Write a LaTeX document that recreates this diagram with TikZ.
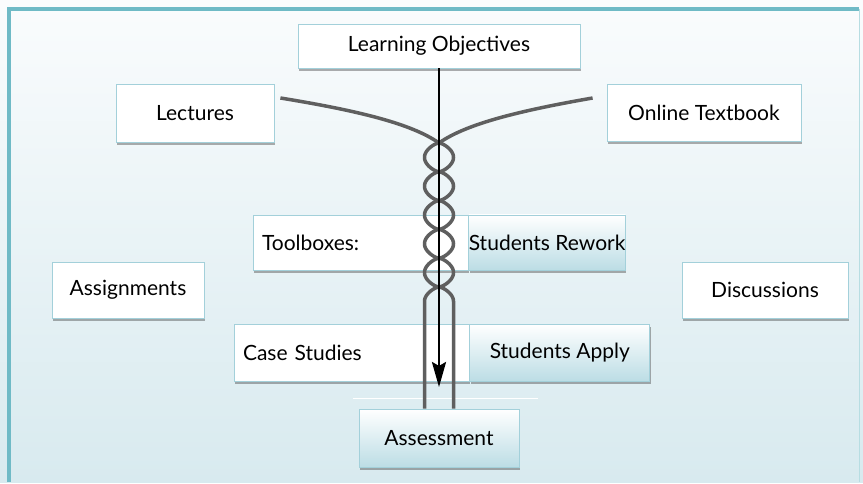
\documentclass[tikz,border=0pt]{standalone}
\usepackage{fontspec}
\setmainfont{Lato}
\usetikzlibrary{positioning,arrows.meta,shadows,calc}
\definecolor{w_frame}{HTML}{6FBAC6}
\definecolor{w_edge}{HTML}{A3D0DA}
\definecolor{w_bgtop}{HTML}{FAFCFD}
\definecolor{w_bgbot}{HTML}{D8EAEF}
\definecolor{w_shade}{HTML}{BCDDE5}
\definecolor{w_rope}{HTML}{5F5F5F}
\tikzstyle{block} = [rectangle, draw=w_edge, line width=0.8pt, fill=white,
	inner sep=0pt, minimum height=56pt,
	drop shadow={shadow xshift=1pt, shadow yshift=-3pt, opacity=0.45, fill=black!70}]
\tikzstyle{shadedblock} = [block, top color=white, bottom color=w_shade]
\tikzstyle{rope} = [draw=w_rope, line width=3.5pt]

\begin{document}
\begin{tikzpicture}[x=1pt, y=-1pt, font=\fontsize{21}{25}\selectfont]
	\shade[top color=w_bgtop, bottom color=w_bgbot] (0,0) rectangle (863,482);
	\draw[w_frame, line width=4pt] (9,482) -- (9,9) -- (859,9);
	\draw[w_frame!50, line width=1pt] (859,9) -- (859,482);

	\node[block, minimum width=282pt, minimum height=44pt] (lobj) at (439,46) {Learning Objectives};
	\node[block, minimum width=158pt, minimum height=58pt] (lect) at (195,113) {Lectures};
	\node[block, minimum width=194pt, minimum height=57pt] (otb) at (704,112.5) {Online Textbook};

	\node[block, minimum width=215pt, minimum height=55pt, text width=197pt, align=left] (tbox) at (360.5,242.5) {Toolboxes:};
	\node[shadedblock, minimum width=152pt, minimum height=55pt, right=0pt of tbox] (rework) {Students Rework};

	\node[block, minimum width=152pt] (asgn) at (128,290) {Assignments};
	\node[block, minimum width=166pt] (disc) at (765,290) {Discussions};

	\node[block, minimum width=235pt, minimum height=57pt, text width=217pt, align=left] (cases) at (351.5,352.5) {Case Studies};
	\node[shadedblock, minimum width=180pt, minimum height=57pt, right=0pt of cases] (apply) {Students Apply};

	\draw[white, line width=1pt] (353,398) -- (538,398);
	\node[shadedblock, minimum width=160pt, minimum height=58pt] (assess) at (439,438) {Assessment};

	\draw[rope] ([xshift=6pt, yshift=15pt]lect.east) .. controls (360,111) and (412,124) .. (439,143)
		-- plot[variable=\t, domain=143:301.4, samples=240] ({439+14.5*sign(sin(6.25*(\t-143)))*(abs(sin(6.25*(\t-143)))+0.0001)^0.65}, {\t})
		-- ([xshift=-14.5pt]assess.north);
	\draw[rope] ([xshift=-14pt, yshift=14.5pt]otb.west) .. controls (518,111) and (466,124) .. (439,143)
		-- plot[variable=\t, domain=143:301.4, samples=240] ({439-14.5*sign(sin(6.25*(\t-143)))*(abs(sin(6.25*(\t-143)))+0.0001)^0.65}, {\t})
		-- ([xshift=14.5pt]assess.north);

	\coordinate (tip) at (439,387);
	\draw[line width=2.8pt, -{Stealth[length=25pt, width=14pt, inset=4pt]}] (lobj.south) -- (tip);
\end{tikzpicture}
\end{document}
